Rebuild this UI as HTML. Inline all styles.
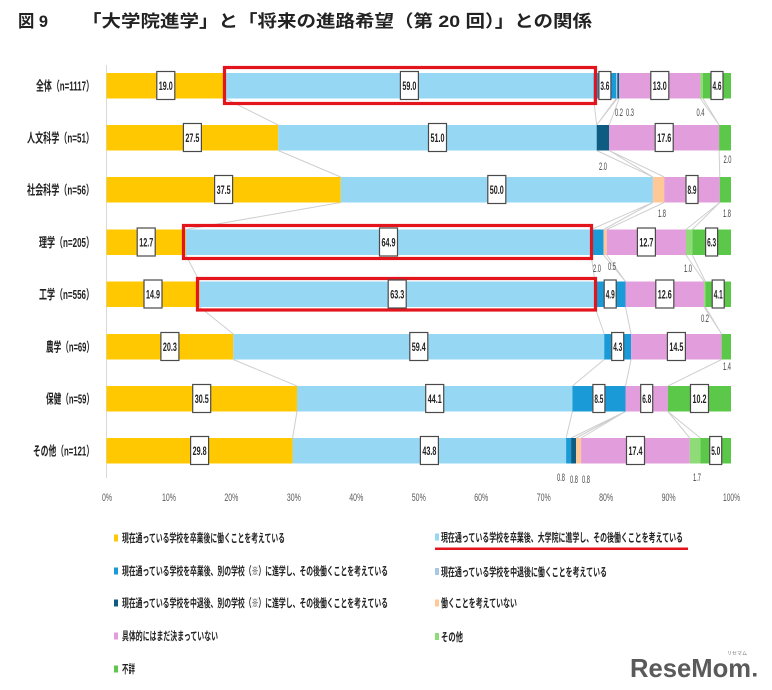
<!DOCTYPE html>
<html>
<head>
<meta charset="utf-8">
<style>
html,body{margin:0;padding:0;background:#fff;}
svg{display:block;}
.t{font-family:"Liberation Sans","Noto Sans CJK JP",sans-serif;}
.cat{font-family:"Liberation Sans","Noto Sans CJK JP",sans-serif;font-weight:bold;font-size:13px;fill:#222;}
.bx{fill:#fff;stroke:#4a4a4a;stroke-width:1.2;}
.bt{font-family:"Liberation Sans",sans-serif;font-weight:bold;font-size:12px;fill:#222;}
.sm{font-family:"Liberation Sans",sans-serif;font-size:11px;fill:#444;}
.ax{font-family:"Liberation Sans",sans-serif;font-size:11px;fill:#595959;}
.lg{font-family:"Liberation Sans","Noto Sans CJK JP",sans-serif;font-weight:bold;font-size:11.5px;fill:#222;}
</style>
</head>
<body>
<svg width="772" height="690" viewBox="0 0 772 690" xmlns="http://www.w3.org/2000/svg">
<rect width="772" height="690" fill="#fff"/>

<!-- Title -->
<text class="t" x="18" y="27" font-size="17" font-weight="bold" fill="#222" textLength="30" lengthAdjust="spacingAndGlyphs">図 9</text>
<text class="t" x="82" y="27" font-size="17" font-weight="bold" fill="#222" textLength="510" lengthAdjust="spacingAndGlyphs">「大学院進学」と「将来の進路希望（第 20 回）」との関係</text>

<!-- axis line -->
<line x1="106.5" y1="65" x2="106.5" y2="478" stroke="#d9d9d9" stroke-width="1"/>

<!-- connector lines -->
<path fill="none" stroke="#cfcfcf" stroke-width="1" d="
M225.2 98.5L278.2 125 M593.6 98.5L596.7 125 M616.1 98.5L596.7 125 M617.3 98.5L596.7 125 M619.2 98.5L609.2 125 M700.4 98.5L719.1 125 M702.9 98.5L719.1 125
M278.2 150.5L340.7 177 M596.7 150.5L652.9 177 M609.2 150.5L652.9 177 M609.2 150.5L664.2 177 M719.1 150.5L719.8 177
M340.7 202.5L185.8 229.5 M652.9 202.5L591.1 229.5 M652.9 202.5L603.6 229.5 M664.2 202.5L606.7 229.5 M719.8 202.5L686 229.5 M719.8 202.5L692.3 229.5
M185.8 255L199.6 281.5 M591.1 255L594.9 281.5 M603.6 255L625.5 281.5 M606.7 255L625.5 281.5 M686 255L704.1 281.5 M692.3 255L705.4 281.5
M199.6 307L233.3 334 M594.9 307L604.2 334 M625.5 307L631.1 334 M704.1 307L721.6 334 M705.4 307L721.6 334
M233.3 359.5L297 386 M604.2 359.5L572.4 386 M631.1 359.5L625.5 386 M721.6 359.5L667.9 386
M297 411.5L292.6 438 M572.4 411.5L566.1 438 M625.5 411.5L571.1 438 M625.5 411.5L576.1 438 M625.5 411.5L581.1 438 M667.9 411.5L689.8 438 M667.9 411.5L700.4 438
"/>

<!-- Row 0 全体 -->
<g>
<rect x="106.5" y="73" width="118.7" height="25.5" fill="#FFC800"/>
<rect x="225.2" y="73" width="368.4" height="25.5" fill="#96D7F4"/>
<rect x="593.6" y="73" width="22.5" height="25.5" fill="#1A9BD7"/>
<rect x="616.1" y="73" width="1.2" height="25.5" fill="#A6C8E4"/>
<rect x="617.3" y="73" width="1.9" height="25.5" fill="#0E5C82"/>
<rect x="619.2" y="73" width="81.2" height="25.5" fill="#E29DDC"/>
<rect x="700.4" y="73" width="2.5" height="25.5" fill="#8FDB78"/>
<rect x="702.9" y="73" width="28.1" height="25.5" fill="#5CC84A"/>
</g>
<!-- Row 1 人文科学 -->
<g>
<rect x="106.5" y="125" width="171.7" height="25.5" fill="#FFC800"/>
<rect x="278.2" y="125" width="318.5" height="25.5" fill="#96D7F4"/>
<rect x="596.7" y="125" width="12.5" height="25.5" fill="#0E5C82"/>
<rect x="609.2" y="125" width="109.9" height="25.5" fill="#E29DDC"/>
<rect x="719.1" y="125" width="11.9" height="25.5" fill="#5CC84A"/>
</g>
<!-- Row 2 社会科学 -->
<g>
<rect x="106.5" y="177" width="234.2" height="25.5" fill="#FFC800"/>
<rect x="340.7" y="177" width="312.2" height="25.5" fill="#96D7F4"/>
<rect x="652.9" y="177" width="11.3" height="25.5" fill="#FFC896"/>
<rect x="664.2" y="177" width="55.6" height="25.5" fill="#E29DDC"/>
<rect x="719.8" y="177" width="11.2" height="25.5" fill="#5CC84A"/>
</g>
<!-- Row 3 理学 -->
<g>
<rect x="106.5" y="229.5" width="79.3" height="25.5" fill="#FFC800"/>
<rect x="185.8" y="229.5" width="405.3" height="25.5" fill="#96D7F4"/>
<rect x="591.1" y="229.5" width="12.5" height="25.5" fill="#1A9BD7"/>
<rect x="603.6" y="229.5" width="3.1" height="25.5" fill="#FFC896"/>
<rect x="606.7" y="229.5" width="79.3" height="25.5" fill="#E29DDC"/>
<rect x="686" y="229.5" width="6.3" height="25.5" fill="#8FDB78"/>
<rect x="692.3" y="229.5" width="38.7" height="25.5" fill="#5CC84A"/>
</g>
<!-- Row 4 工学 -->
<g>
<rect x="106.5" y="281.5" width="93.1" height="25.5" fill="#FFC800"/>
<rect x="199.6" y="281.5" width="395.3" height="25.5" fill="#96D7F4"/>
<rect x="594.9" y="281.5" width="30.6" height="25.5" fill="#1A9BD7"/>
<rect x="625.5" y="281.5" width="78.6" height="25.5" fill="#E29DDC"/>
<rect x="704.1" y="281.5" width="1.3" height="25.5" fill="#8FDB78"/>
<rect x="705.4" y="281.5" width="25.6" height="25.5" fill="#5CC84A"/>
</g>
<!-- Row 5 農学 -->
<g>
<rect x="106.5" y="334" width="126.8" height="25.5" fill="#FFC800"/>
<rect x="233.3" y="334" width="370.9" height="25.5" fill="#96D7F4"/>
<rect x="604.2" y="334" width="26.9" height="25.5" fill="#1A9BD7"/>
<rect x="631.1" y="334" width="90.5" height="25.5" fill="#E29DDC"/>
<rect x="721.6" y="334" width="9.4" height="25.5" fill="#5CC84A"/>
</g>
<!-- Row 6 保健 -->
<g>
<rect x="106.5" y="386" width="190.5" height="25.5" fill="#FFC800"/>
<rect x="297" y="386" width="275.4" height="25.5" fill="#96D7F4"/>
<rect x="572.4" y="386" width="53.1" height="25.5" fill="#1A9BD7"/>
<rect x="625.5" y="386" width="42.4" height="25.5" fill="#E29DDC"/>
<rect x="667.9" y="386" width="63.1" height="25.5" fill="#5CC84A"/>
</g>
<!-- Row 7 その他 -->
<g>
<rect x="106.5" y="438" width="186.1" height="25.5" fill="#FFC800"/>
<rect x="292.6" y="438" width="273.5" height="25.5" fill="#96D7F4"/>
<rect x="566.1" y="438" width="5" height="25.5" fill="#1A9BD7"/>
<rect x="571.1" y="438" width="5" height="25.5" fill="#0E5C82"/>
<rect x="576.1" y="438" width="5" height="25.5" fill="#FFC896"/>
<rect x="581.1" y="438" width="108.7" height="25.5" fill="#E29DDC"/>
<rect x="689.8" y="438" width="10.6" height="25.5" fill="#8FDB78"/>
<rect x="700.4" y="438" width="30.6" height="25.5" fill="#5CC84A"/>
</g>

<!-- Red highlight boxes -->
<g fill="none" stroke="#E3141C" stroke-width="3.2">
<rect x="224.5" y="67.5" width="371" height="36"/>
<rect x="183.5" y="225.5" width="408" height="33"/>
<rect x="197.5" y="278.5" width="398" height="31.5"/>
</g>

<!-- Category labels -->
<text class="cat" x="94" y="90.5" text-anchor="end" textLength="58" lengthAdjust="spacingAndGlyphs">全体（n=1117）</text>
<text class="cat" x="94" y="142.5" text-anchor="end" textLength="67" lengthAdjust="spacingAndGlyphs">人文科学（n=51）</text>
<text class="cat" x="94" y="194.5" text-anchor="end" textLength="67" lengthAdjust="spacingAndGlyphs">社会科学（n=56）</text>
<text class="cat" x="94" y="247" text-anchor="end" textLength="55" lengthAdjust="spacingAndGlyphs">理学（n=205）</text>
<text class="cat" x="94" y="299" text-anchor="end" textLength="55" lengthAdjust="spacingAndGlyphs">工学（n=556）</text>
<text class="cat" x="94" y="351.5" text-anchor="end" textLength="48" lengthAdjust="spacingAndGlyphs">農学（n=69）</text>
<text class="cat" x="94" y="403.5" text-anchor="end" textLength="48" lengthAdjust="spacingAndGlyphs">保健（n=59）</text>
<text class="cat" x="94" y="455.5" text-anchor="end" textLength="61" lengthAdjust="spacingAndGlyphs">その他（n=121）</text>

<!-- Boxed value labels -->
<g>
<!-- row0 -->
<rect class="bx" x="156.8" y="71.5" width="18" height="28"/><text class="bt" x="165.8" y="90" text-anchor="middle" textLength="14" lengthAdjust="spacingAndGlyphs">19.0</text>
<rect class="bx" x="400.4" y="71.5" width="18" height="28"/><text class="bt" x="409.4" y="90" text-anchor="middle" textLength="14" lengthAdjust="spacingAndGlyphs">59.0</text>
<rect class="bx" x="598.9" y="71.5" width="12" height="28"/><text class="bt" x="604.9" y="90" text-anchor="middle" textLength="9" lengthAdjust="spacingAndGlyphs">3.6</text>
<rect class="bx" x="650.8" y="71.5" width="18" height="28"/><text class="bt" x="659.8" y="90" text-anchor="middle" textLength="14" lengthAdjust="spacingAndGlyphs">13.0</text>
<rect class="bx" x="711" y="71.5" width="12" height="28"/><text class="bt" x="717" y="90" text-anchor="middle" textLength="9" lengthAdjust="spacingAndGlyphs">4.6</text>
<!-- row1 -->
<rect class="bx" x="183.4" y="123.5" width="18" height="28"/><text class="bt" x="192.4" y="142" text-anchor="middle" textLength="14" lengthAdjust="spacingAndGlyphs">27.5</text>
<rect class="bx" x="428.5" y="123.5" width="18" height="28"/><text class="bt" x="437.5" y="142" text-anchor="middle" textLength="14" lengthAdjust="spacingAndGlyphs">51.0</text>
<rect class="bx" x="655.2" y="123.5" width="18" height="28"/><text class="bt" x="664.2" y="142" text-anchor="middle" textLength="14" lengthAdjust="spacingAndGlyphs">17.6</text>
<!-- row2 -->
<rect class="bx" x="214.6" y="175.5" width="18" height="28"/><text class="bt" x="223.6" y="194" text-anchor="middle" textLength="14" lengthAdjust="spacingAndGlyphs">37.5</text>
<rect class="bx" x="487.8" y="175.5" width="18" height="28"/><text class="bt" x="496.8" y="194" text-anchor="middle" textLength="14" lengthAdjust="spacingAndGlyphs">50.0</text>
<rect class="bx" x="686" y="175.5" width="12" height="28"/><text class="bt" x="692" y="194" text-anchor="middle" textLength="9" lengthAdjust="spacingAndGlyphs">8.9</text>
<!-- row3 -->
<rect class="bx" x="137.2" y="228" width="18" height="28"/><text class="bt" x="146.2" y="246.5" text-anchor="middle" textLength="14" lengthAdjust="spacingAndGlyphs">12.7</text>
<rect class="bx" x="379.5" y="228" width="18" height="28"/><text class="bt" x="388.5" y="246.5" text-anchor="middle" textLength="14" lengthAdjust="spacingAndGlyphs">64.9</text>
<rect class="bx" x="637.4" y="228" width="18" height="28"/><text class="bt" x="646.4" y="246.5" text-anchor="middle" textLength="14" lengthAdjust="spacingAndGlyphs">12.7</text>
<rect class="bx" x="705.6" y="228" width="12" height="28"/><text class="bt" x="711.6" y="246.5" text-anchor="middle" textLength="9" lengthAdjust="spacingAndGlyphs">6.3</text>
<!-- row4 -->
<rect class="bx" x="144" y="280" width="18" height="28"/><text class="bt" x="153" y="298.5" text-anchor="middle" textLength="14" lengthAdjust="spacingAndGlyphs">14.9</text>
<rect class="bx" x="388.2" y="280" width="18" height="28"/><text class="bt" x="397.2" y="298.5" text-anchor="middle" textLength="14" lengthAdjust="spacingAndGlyphs">63.3</text>
<rect class="bx" x="604.2" y="280" width="12" height="28"/><text class="bt" x="610.2" y="298.5" text-anchor="middle" textLength="9" lengthAdjust="spacingAndGlyphs">4.9</text>
<rect class="bx" x="655.8" y="280" width="18" height="28"/><text class="bt" x="664.8" y="298.5" text-anchor="middle" textLength="14" lengthAdjust="spacingAndGlyphs">12.6</text>
<rect class="bx" x="712.2" y="280" width="12" height="28"/><text class="bt" x="718.2" y="298.5" text-anchor="middle" textLength="9" lengthAdjust="spacingAndGlyphs">4.1</text>
<!-- row5 -->
<rect class="bx" x="160.9" y="332.5" width="18" height="28"/><text class="bt" x="169.9" y="351" text-anchor="middle" textLength="14" lengthAdjust="spacingAndGlyphs">20.3</text>
<rect class="bx" x="409.8" y="332.5" width="18" height="28"/><text class="bt" x="418.8" y="351" text-anchor="middle" textLength="14" lengthAdjust="spacingAndGlyphs">59.4</text>
<rect class="bx" x="611.7" y="332.5" width="12" height="28"/><text class="bt" x="617.7" y="351" text-anchor="middle" textLength="9" lengthAdjust="spacingAndGlyphs">4.3</text>
<rect class="bx" x="667.4" y="332.5" width="18" height="28"/><text class="bt" x="676.4" y="351" text-anchor="middle" textLength="14" lengthAdjust="spacingAndGlyphs">14.5</text>
<!-- row6 -->
<rect class="bx" x="192.7" y="384.5" width="18" height="28"/><text class="bt" x="201.7" y="403" text-anchor="middle" textLength="14" lengthAdjust="spacingAndGlyphs">30.5</text>
<rect class="bx" x="425.7" y="384.5" width="18" height="28"/><text class="bt" x="434.7" y="403" text-anchor="middle" textLength="14" lengthAdjust="spacingAndGlyphs">44.1</text>
<rect class="bx" x="592.9" y="384.5" width="12" height="28"/><text class="bt" x="598.9" y="403" text-anchor="middle" textLength="9" lengthAdjust="spacingAndGlyphs">8.5</text>
<rect class="bx" x="640.7" y="384.5" width="12" height="28"/><text class="bt" x="646.7" y="403" text-anchor="middle" textLength="9" lengthAdjust="spacingAndGlyphs">6.8</text>
<rect class="bx" x="690.5" y="384.5" width="18" height="28"/><text class="bt" x="699.5" y="403" text-anchor="middle" textLength="14" lengthAdjust="spacingAndGlyphs">10.2</text>
<!-- row7 -->
<rect class="bx" x="190.6" y="436.5" width="18" height="28"/><text class="bt" x="199.6" y="455" text-anchor="middle" textLength="14" lengthAdjust="spacingAndGlyphs">29.8</text>
<rect class="bx" x="420.4" y="436.5" width="18" height="28"/><text class="bt" x="429.4" y="455" text-anchor="middle" textLength="14" lengthAdjust="spacingAndGlyphs">43.8</text>
<rect class="bx" x="626.5" y="436.5" width="18" height="28"/><text class="bt" x="635.5" y="455" text-anchor="middle" textLength="14" lengthAdjust="spacingAndGlyphs">17.4</text>
<rect class="bx" x="709.7" y="436.5" width="12" height="28"/><text class="bt" x="715.7" y="455" text-anchor="middle" textLength="9" lengthAdjust="spacingAndGlyphs">5.0</text>
</g>

<!-- Small labels -->
<g>
<text class="sm" x="619" y="116" text-anchor="middle" textLength="8" lengthAdjust="spacingAndGlyphs">0.2</text>
<text class="sm" x="630" y="116" text-anchor="middle" textLength="8" lengthAdjust="spacingAndGlyphs">0.3</text>
<text class="sm" x="700.5" y="116" text-anchor="middle" textLength="8" lengthAdjust="spacingAndGlyphs">0.4</text>
<text class="sm" x="603" y="170" text-anchor="middle" textLength="8" lengthAdjust="spacingAndGlyphs">2.0</text>
<text class="sm" x="727.5" y="163" text-anchor="middle" textLength="8" lengthAdjust="spacingAndGlyphs">2.0</text>
<text class="sm" x="662" y="217" text-anchor="middle" textLength="8" lengthAdjust="spacingAndGlyphs">1.8</text>
<text class="sm" x="727" y="217" text-anchor="middle" textLength="8" lengthAdjust="spacingAndGlyphs">1.8</text>
<text class="sm" x="597" y="272" text-anchor="middle" textLength="8" lengthAdjust="spacingAndGlyphs">2.0</text>
<text class="sm" x="612" y="270" text-anchor="middle" textLength="8" lengthAdjust="spacingAndGlyphs">0.5</text>
<text class="sm" x="688" y="272" text-anchor="middle" textLength="8" lengthAdjust="spacingAndGlyphs">1.0</text>
<text class="sm" x="705" y="322" text-anchor="middle" textLength="8" lengthAdjust="spacingAndGlyphs">0.2</text>
<text class="sm" x="727" y="370" text-anchor="middle" textLength="8" lengthAdjust="spacingAndGlyphs">1.4</text>
<text class="sm" x="561" y="481" text-anchor="middle" textLength="8" lengthAdjust="spacingAndGlyphs">0.8</text>
<text class="sm" x="574" y="483" text-anchor="middle" textLength="8" lengthAdjust="spacingAndGlyphs">0.8</text>
<text class="sm" x="586" y="483" text-anchor="middle" textLength="8" lengthAdjust="spacingAndGlyphs">0.8</text>
<text class="sm" x="697" y="481" text-anchor="middle" textLength="8" lengthAdjust="spacingAndGlyphs">1.7</text>
</g>

<!-- Axis labels -->
<g>
<text class="ax" x="107" y="501" text-anchor="middle" textLength="10" lengthAdjust="spacingAndGlyphs">0%</text>
<text class="ax" x="169" y="501" text-anchor="middle" textLength="14" lengthAdjust="spacingAndGlyphs">10%</text>
<text class="ax" x="231.4" y="501" text-anchor="middle" textLength="14" lengthAdjust="spacingAndGlyphs">20%</text>
<text class="ax" x="293.9" y="501" text-anchor="middle" textLength="14" lengthAdjust="spacingAndGlyphs">30%</text>
<text class="ax" x="356.3" y="501" text-anchor="middle" textLength="14" lengthAdjust="spacingAndGlyphs">40%</text>
<text class="ax" x="418.8" y="501" text-anchor="middle" textLength="14" lengthAdjust="spacingAndGlyphs">50%</text>
<text class="ax" x="481.2" y="501" text-anchor="middle" textLength="14" lengthAdjust="spacingAndGlyphs">60%</text>
<text class="ax" x="543.7" y="501" text-anchor="middle" textLength="14" lengthAdjust="spacingAndGlyphs">70%</text>
<text class="ax" x="606.1" y="501" text-anchor="middle" textLength="14" lengthAdjust="spacingAndGlyphs">80%</text>
<text class="ax" x="668.6" y="501" text-anchor="middle" textLength="14" lengthAdjust="spacingAndGlyphs">90%</text>
<text class="ax" x="731.5" y="501" text-anchor="middle" textLength="17" lengthAdjust="spacingAndGlyphs">100%</text>
</g>

<!-- Legend -->
<g>
<rect x="114" y="534.5" width="4" height="7" fill="#FFC800"/>
<text class="lg" x="122" y="542" textLength="163" lengthAdjust="spacingAndGlyphs">現在通っている学校を卒業後に働くことを考えている</text>
<rect x="114" y="567.5" width="4" height="7" fill="#1A9BD7"/>
<text class="lg" x="122" y="575" textLength="266" lengthAdjust="spacingAndGlyphs">現在通っている学校を卒業後、別の学校（※）に進学し、その後働くことを考えている</text>
<rect x="114" y="599.5" width="4" height="7" fill="#0E5C82"/>
<text class="lg" x="122" y="607" textLength="266" lengthAdjust="spacingAndGlyphs">現在通っている学校を中退後、別の学校（※）に進学し、その後働くことを考えている</text>
<rect x="114" y="632.5" width="4" height="7" fill="#E29DDC"/>
<text class="lg" x="122" y="640" textLength="96" lengthAdjust="spacingAndGlyphs">具体的にはまだ決まっていない</text>
<rect x="114" y="665.5" width="4" height="7" fill="#5CC84A"/>
<text class="lg" x="122" y="673" textLength="13" lengthAdjust="spacingAndGlyphs">不詳</text>

<rect x="435" y="533.5" width="4" height="7" fill="#96D7F4"/>
<text class="lg" x="441" y="541.5" textLength="242" lengthAdjust="spacingAndGlyphs">現在通っている学校を卒業後、大学院に進学し、その後働くことを考えている</text>
<rect x="435" y="547.5" width="253" height="2.5" fill="#E3141C"/>
<rect x="435" y="568" width="4" height="7" fill="#A6C8E4"/>
<text class="lg" x="441" y="576" textLength="166" lengthAdjust="spacingAndGlyphs">現在通っている学校を中退後に働くことを考えている</text>
<rect x="435" y="599.5" width="4" height="7" fill="#FFC896"/>
<text class="lg" x="441" y="607" textLength="76" lengthAdjust="spacingAndGlyphs">働くことを考えていない</text>
<rect x="435" y="633" width="4" height="7" fill="#8FDB78"/>
<text class="lg" x="441" y="641" textLength="22" lengthAdjust="spacingAndGlyphs">その他</text>
</g>

<!-- Logo -->
<g>
<text x="630" y="677" font-family="Liberation Sans, sans-serif" font-weight="bold" font-size="26" fill="#5a5a5a" textLength="121" lengthAdjust="spacingAndGlyphs">ReseMom</text>
<rect x="753" y="673" width="3.5" height="3.5" fill="#5a5a5a"/>
<text x="737" y="655" font-family="Liberation Sans, Noto Sans CJK JP, sans-serif" font-size="5" fill="#777" text-anchor="middle">リセマム</text>
</g>
</svg>
</body>
</html>
